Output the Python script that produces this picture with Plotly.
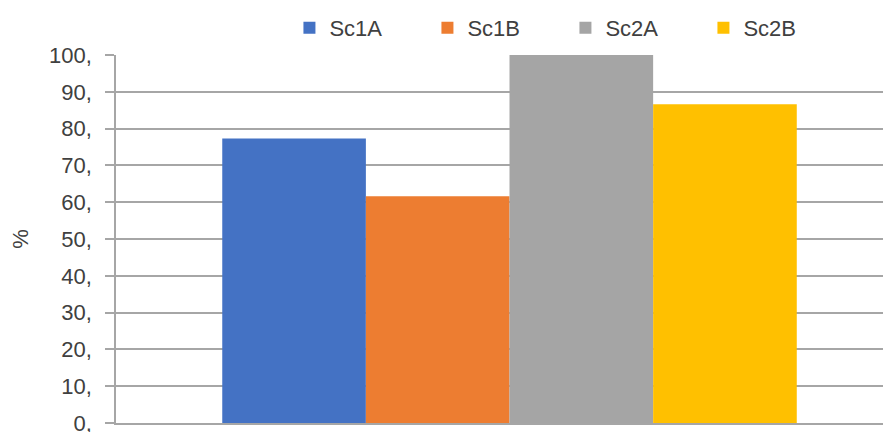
import plotly.graph_objects as go

series = ["Sc1A", "Sc1B", "Sc2A", "Sc2B"]
values = [77.3, 61.6, 100.0, 86.6]
colors = ["#4472C4", "#ED7D31", "#A5A5A5", "#FFC000"]
category = [""]
tick_vals = [0, 10, 20, 30, 40, 50, 60, 70, 80, 90, 100]
tick_text = ["0,", "10,", "20,", "30,", "40,", "50,", "60,", "70,", "80,", "90,", "100,"]

fig = go.Figure()
for name, v, c in zip(series, values, colors):
    fig.add_trace(go.Bar(x=category, y=[v], name=name, marker_color=c,
                         marker_line_width=0))

fig.update_layout(
    width=891, height=432,
    margin=dict(l=108, r=0, t=47, b=17, autoexpand=False),
    barmode="group", bargap=0.27, bargroupgap=0,
    plot_bgcolor="white", paper_bgcolor="white",
    font=dict(family="Liberation Sans, Arial, sans-serif", size=22, color="#404040"),
    showlegend=True,
    legend=dict(orientation="h", x=0.2215, xanchor="left", y=1.0734, yanchor="middle",
                entrywidth=93, entrywidthmode="pixels", font=dict(size=22),
                bgcolor="rgba(0,0,0,0)", traceorder="normal"),
)
fig.update_xaxes(type="category", range=[-0.5, 0.4949], showticklabels=False,
                 showgrid=False, showline=True, linecolor="#A6A6A6", linewidth=1.5,
                 ticks="", zeroline=False)
fig.update_yaxes(range=[0, 100], tickvals=tick_vals, ticktext=tick_text,
                 showgrid=True, gridcolor="#A6A6A6", gridwidth=1.5,
                 showline=True, linecolor="#A6A6A6", linewidth=1.5,
                 ticks="outside", ticklen=9, tickcolor="#A6A6A6", tickwidth=1.5,
                 ticklabelstandoff=9, ticklabeloverflow="allow", zeroline=False,
                 title=dict(text="%", standoff=14, font=dict(size=22)))

fig.write_html("out.html")
